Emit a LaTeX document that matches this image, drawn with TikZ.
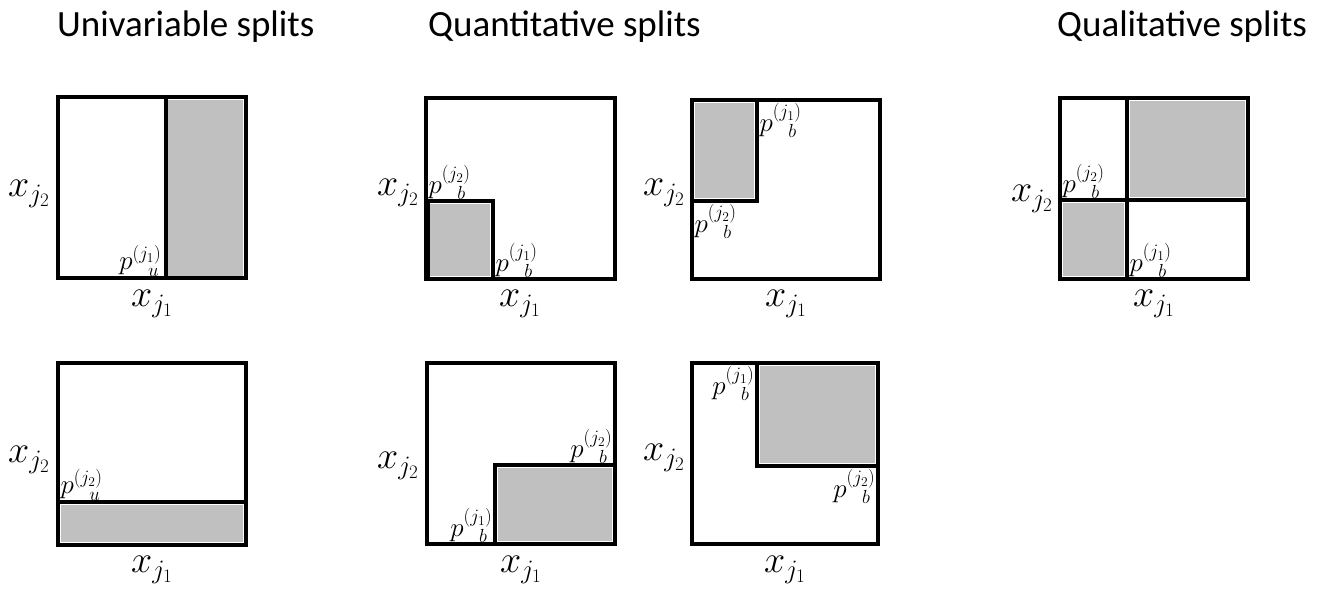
\RequirePackage{fix-cm}
\documentclass[tikz,border=0pt]{standalone}
\usepackage{fontspec}
\setmainfont{Carlito}
\definecolor{shade}{RGB}{192,192,192}
\tikzset{
  frame/.style={draw=black, line width=3.6pt, line join=miter},
  fillr/.style={fill=shade, draw=none},
  title/.style={font=\fontsize{37}{40}\selectfont, inner sep=0pt, anchor=base west},
  axl/.style={font=\fontsize{38}{40}\selectfont, inner sep=1pt},
  plab/.style={font=\fontsize{27}{30}\selectfont, inner sep=2.5pt}
}
\newcommand{\pb}{$p^{(j_2)}_{\hphantom{(j}b}$}
\newcommand{\pbone}{$p^{(j_1)}_{\hphantom{(j}b}$}
\begin{document}
\begin{tikzpicture}[x=1pt,y=-1pt]
\useasboundingbox (0,0) rectangle (1320,596);

% titles
\node[title] (t1) at (57,37) {Univariable splits};
\node[title] (t2) at (428,37) {Quantitative splits};
\node[title] (t3) at (1057,37) {Qualitative splits};

% ---------- Panel 1 (univariable, vertical split)
\fill[fillr] (168,100) rectangle (243,276);
\draw[frame] (58,97) rectangle (246,278);
\draw[frame] (166,97) -- (166,278);
\node[plab, anchor=south east] (p1) at (164,279) {$p^{(j_1)}_{\hphantom{(j}u}$};
\node[axl, anchor=north] (x1a) at (152,289) {$x_{j_1}$};
\node[axl, anchor=east] (x1b) at (51,194) {$x_{j_2}$};

% ---------- Panel 5 (univariable, horizontal split)
\fill[fillr] (61,505) rectangle (243,542);
\draw[frame] (58,363) rectangle (246,545);
\draw[frame] (58,502) -- (246,502);
\node[plab, anchor=south west] (p5) at (58,503) {$p^{(j_2)}_{\hphantom{(j}u}$};
\node[axl, anchor=north] (x5a) at (152,555) {$x_{j_1}$};
\node[axl, anchor=east] (x5b) at (51,460) {$x_{j_2}$};

% ---------- Panel 2 (quantitative, bottom-left)
\fill[fillr] (429,204) rectangle (490,276);
\draw[frame] (426,98) rectangle (615,279);
\draw[frame] (426,201) -- (493,201) -- (493,279);
\draw[frame] (428,201) -- (428,279);
\node[plab, anchor=south west] (p2a) at (426,202) {\pb};
\node[plab, anchor=south west] (p2b) at (493,280) {\pbone};
\node[axl, anchor=north] (x2a) at (520,289) {$x_{j_1}$};
\node[axl, anchor=east] (x2b) at (420,193) {$x_{j_2}$};

% ---------- Panel 3 (quantitative, top-left)
\fill[fillr] (695,103) rectangle (754,198);
\draw[frame] (692,100) rectangle (880,279);
\draw[frame] (757,100) -- (757,201) -- (692,201);
\node[plab, anchor=north west] (p3a) at (757,101) {\pbone};
\node[plab, anchor=north west] (p3b) at (692,202) {\pb};
\node[axl, anchor=north] (x3a) at (786,289) {$x_{j_1}$};
\node[axl, anchor=east] (x3b) at (686,193) {$x_{j_2}$};

% ---------- Panel 4 (qualitative)
\fill[fillr] (1130,101) rectangle (1245,197);
\fill[fillr] (1063,203) rectangle (1124,276);
\draw[frame] (1060,98) rectangle (1248,279);
\draw[frame] (1127,98) -- (1127,279);
\draw[frame] (1060,200) -- (1248,200);
\node[plab, anchor=south west] (p4a) at (1060,201) {\pb};
\node[plab, anchor=south west] (p4b) at (1127,280) {\pbone};
\node[axl, anchor=north] (x4a) at (1154,289) {$x_{j_1}$};
\node[axl, anchor=east] (x4b) at (1054,199) {$x_{j_2}$};

% ---------- Panel 6 (quantitative, bottom-right)
\fill[fillr] (498,468) rectangle (612,541);
\draw[frame] (427,363) rectangle (615,544);
\draw[frame] (495,544) -- (495,465) -- (615,465);
\node[plab, anchor=south east] (p6a) at (615,466) {\pb};
\node[plab, anchor=south east] (p6b) at (495,545) {\pbone};
\node[axl, anchor=north] (x6a) at (521,555) {$x_{j_1}$};
\node[axl, anchor=east] (x6b) at (420,466) {$x_{j_2}$};

% ---------- Panel 7 (quantitative, top-right)
\fill[fillr] (760,366) rectangle (875,463);
\draw[frame] (692,363) rectangle (878,544);
\draw[frame] (757,363) -- (757,466) -- (878,466);
\node[plab, anchor=north east] (p7a) at (757,364) {\pbone};
\node[plab, anchor=north east] (p7b) at (878,467) {\pb};
\node[axl, anchor=north] (x7a) at (785,555) {$x_{j_1}$};
\node[axl, anchor=east] (x7b) at (686,458) {$x_{j_2}$};
\end{tikzpicture}
\end{document}
